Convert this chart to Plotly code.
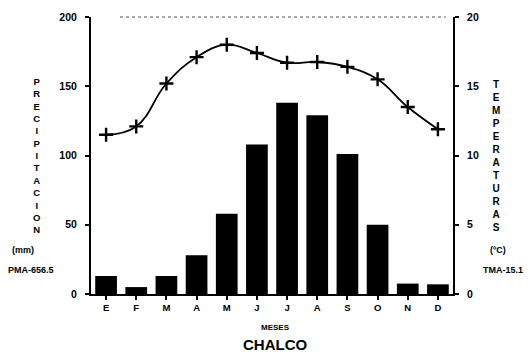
import plotly.graph_objects as go

months = ["E", "F", "M", "A", "M", "J", "J", "A", "S", "O", "N", "D"]
precip = [13, 5, 13, 28, 58, 108, 138, 129, 101, 50, 7.5, 7]
temp = [11.5, 12.1, 15.2, 17.1, 18.0, 17.4, 16.7, 16.75, 16.4, 15.5, 13.5, 11.9]
y1_ticks = [0, 50, 100, 150, 200]
y2_ticks = [0, 5, 10, 15, 20]

x = list(range(len(months)))
FONT = "Liberation Sans, Arial, sans-serif"

fig = go.Figure()
fig.add_trace(go.Bar(x=x, y=precip, marker=dict(color="black", line=dict(width=0)),
                     width=0.72, yaxis="y"))
fig.add_trace(go.Scatter(x=x, y=temp, mode="lines+markers", yaxis="y2",
                         line=dict(color="black", width=1.8, shape="spline", smoothing=1.2),
                         marker=dict(symbol="cross-thin", size=10, color="black",
                                     line=dict(color="black", width=2.4))))

tickfont = dict(family=FONT, size=10.5, color="black", weight="bold")
fig.update_layout(
    width=530, height=356,
    margin=dict(l=91, r=77, t=17, b=62),
    paper_bgcolor="white", plot_bgcolor="white",
    showlegend=False,
    bargap=0.28,
    xaxis=dict(range=[-0.5, 11.5], tickmode="array", tickvals=x, ticktext=months,
               showline=True, linecolor="black", linewidth=2, ticks="outside",
               ticklen=4, tickwidth=2, tickcolor="black", showgrid=False,
               zeroline=False, tickfont=dict(family=FONT, size=9.5, color="black", weight="bold")),
    yaxis=dict(range=[0, 200], tickvals=y1_ticks, showline=True, linecolor="black",
               linewidth=2, ticks="outside", ticklen=4, tickwidth=2, tickcolor="black",
               showgrid=False, zeroline=False, tickfont=tickfont, ticklabelstandoff=6),
    yaxis2=dict(range=[0, 20], tickvals=y2_ticks, overlaying="y", side="right",
                showline=True, linecolor="black", linewidth=2, ticks="outside",
                ticklen=4, tickwidth=2, tickcolor="black", showgrid=False,
                zeroline=False, tickfont=tickfont, ticklabelstandoff=6),
)

fig.add_shape(type="line", xref="paper", yref="paper", x0=0.08, x1=0.98, y0=1, y1=1,
              line=dict(color="#555555", width=1, dash="dot"))

def stacked(word):
    return "<br>".join(list(word))

ann_font = dict(family=FONT, size=9, color="black", weight="bold")
fig.add_annotation(text=stacked("PRECIPITACION"), xref="paper", yref="paper",
                   x=-54/362, y=(294-155)/277, xanchor="center", yanchor="middle",
                   showarrow=False, font=dict(family=FONT, size=9.5, color="black", weight="bold"))
fig.add_annotation(text="(mm)", xref="paper", yref="paper", x=-68/362, y=(294-250)/277,
                   xanchor="center", yanchor="middle", showarrow=False, font=ann_font)
fig.add_annotation(text="PMA-656.5", xref="paper", yref="paper", x=-60/362, y=(294-270)/277,
                   xanchor="center", yanchor="middle", showarrow=False, font=ann_font)
fig.add_annotation(text=stacked("TEMPERATURAS"), xref="paper", yref="paper",
                   x=1 + 44/362, y=(294-156)/277, xanchor="center", yanchor="middle",
                   showarrow=False, font=dict(family=FONT, size=10, color="black", weight="bold"))
fig.add_annotation(text="(ºC)", xref="paper", yref="paper", x=1 + 45/362, y=(294-250)/277,
                   xanchor="center", yanchor="middle", showarrow=False, font=ann_font)
fig.add_annotation(text="TMA-15.1", xref="paper", yref="paper", x=1 + 50/362, y=(294-270)/277,
                   xanchor="center", yanchor="middle", showarrow=False, font=ann_font)
fig.add_annotation(text="MESES", xref="paper", yref="paper", x=(275-91)/362, y=-(327-294)/277,
                   xanchor="center", yanchor="middle", showarrow=False,
                   font=dict(family=FONT, size=8, color="black", weight="bold"))
fig.add_annotation(text="CHALCO", xref="paper", yref="paper", x=(275-91)/362, y=-(344-294)/277,
                   xanchor="center", yanchor="middle", showarrow=False,
                   font=dict(family=FONT, size=15, color="black", weight="bold"))

fig.write_html("out.html")
